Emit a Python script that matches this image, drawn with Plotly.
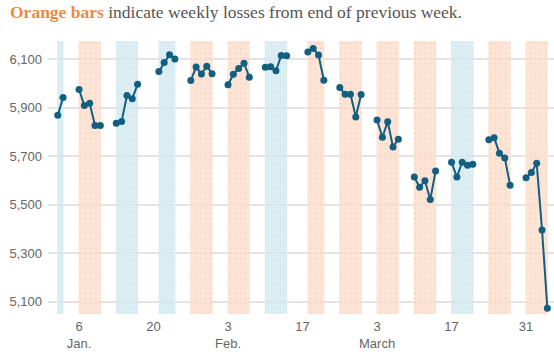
import plotly.graph_objects as go
import pandas as pd

# ---- data ----
dates = [
    "2025-01-02", "2025-01-03",
    "2025-01-06", "2025-01-07", "2025-01-08", "2025-01-09", "2025-01-10",
    "2025-01-13", "2025-01-14", "2025-01-15", "2025-01-16", "2025-01-17",
    "2025-01-21", "2025-01-22", "2025-01-23", "2025-01-24",
    "2025-01-27", "2025-01-28", "2025-01-29", "2025-01-30", "2025-01-31",
    "2025-02-03", "2025-02-04", "2025-02-05", "2025-02-06", "2025-02-07",
    "2025-02-10", "2025-02-11", "2025-02-12", "2025-02-13", "2025-02-14",
    "2025-02-18", "2025-02-19", "2025-02-20", "2025-02-21",
    "2025-02-24", "2025-02-25", "2025-02-26", "2025-02-27", "2025-02-28",
    "2025-03-03", "2025-03-04", "2025-03-05", "2025-03-06", "2025-03-07",
    "2025-03-10", "2025-03-11", "2025-03-12", "2025-03-13", "2025-03-14",
    "2025-03-17", "2025-03-18", "2025-03-19", "2025-03-20", "2025-03-21",
    "2025-03-24", "2025-03-25", "2025-03-26", "2025-03-27", "2025-03-28",
    "2025-03-31", "2025-04-01", "2025-04-02", "2025-04-03", "2025-04-04",
]
closes = [
    5868.55, 5942.47,
    5975.38, 5909.03, 5918.25, 5827.04, 5827.04,
    5836.22, 5842.91, 5949.91, 5937.34, 5996.66,
    6049.24, 6086.37, 6118.71, 6101.24,
    6012.28, 6067.70, 6039.31, 6071.17, 6040.53,
    5994.57, 6037.88, 6061.48, 6083.57, 6025.99,
    6066.44, 6068.50, 6051.97, 6115.07, 6114.63,
    6129.58, 6144.15, 6117.52, 6013.13,
    5983.25, 5955.25, 5956.06, 5861.57, 5954.50,
    5849.72, 5778.15, 5842.63, 5738.52, 5770.20,
    5614.56, 5572.07, 5599.30, 5521.52, 5638.94,
    5675.12, 5614.66, 5675.29, 5662.89, 5667.56,
    5767.57, 5776.65, 5712.20, 5693.31, 5580.94,
    5611.85, 5633.07, 5670.97, 5396.52, 5074.08,
]
# weekly result vs end of previous week, one per week in order
week_result = ["gain", "loss", "gain", "gain", "loss", "loss", "gain",
               "loss", "loss", "loss", "loss", "gain", "loss", "loss"]

tick_dates = ["2025-01-06", "2025-01-20", "2025-02-03", "2025-02-17",
              "2025-03-03", "2025-03-17", "2025-03-31"]
tick_labels = ["6<br>Jan.", "20", "3<br>Feb.", "17", "3<br>March", "17", "31"]
y_ticks = [5100, 5300, 5500, 5700, 5900, 6100]

# ---- build ----
df = pd.DataFrame({"date": pd.to_datetime(dates), "close": closes})
df["week"] = df["date"].dt.isocalendar().week

y_range = [5050, 6175]
x_range = ["2024-12-31 04:00", "2025-04-05 06:00"]

fig = go.Figure()

pad = pd.Timedelta(hours=2.5)
style = {
    "gain": dict(bg="rgba(214,235,241,0.8)", fg="rgba(190,222,232,0.8)", size=3, sol=0.3),
    "loss": dict(bg="rgba(253,222,203,0.8)", fg="rgba(242,170,168,0.7)", size=5, sol=0.1),
}
line_x, line_y = [], []
for i, (wk, g) in enumerate(df.groupby("week", sort=True)):
    start = g["date"].min() - pad
    end = g["date"].max() + pad
    mid = start + (end - start) / 2
    st = style[week_result[i]]
    fig.add_trace(go.Bar(
        x=[mid], y=[y_range[1] - y_range[0]], base=[y_range[0]],
        width=[(end - start).total_seconds() * 1000],
        marker=dict(color=st["bg"], line_width=0,
                    pattern=dict(shape=".", bgcolor=st["bg"], fgcolor=st["fg"],
                                 size=st["size"], solidity=st["sol"])),
        hoverinfo="skip", showlegend=False,
    ))
    line_x += list(g["date"]) + [None]
    line_y += list(g["close"]) + [None]

fig.add_trace(go.Scatter(
    x=line_x, y=line_y, mode="lines+markers",
    line=dict(color="#125f82", width=2),
    marker=dict(color="#125f82", size=7),
    connectgaps=False, showlegend=False,
))

fig.update_layout(
    width=554, height=358,
    margin=dict(l=48, r=0, t=41, b=44, pad=0),
    paper_bgcolor="white", plot_bgcolor="white",
    barmode="overlay",
    title=dict(
        text="<b><span style='color:#ec8a3f'>Orange bars</span></b> indicate weekly losses from end of previous week.",
        x=10 / 554, xanchor="left", xref="container",
        y=1 - 12 / 358, yanchor="middle", yref="container",
        pad=dict(l=0, r=0, t=0, b=0), automargin=False,
        font=dict(family="Liberation Serif, serif", size=17.5, color="#555555"),
    ),
    font=dict(family="Liberation Sans, Arial, sans-serif", size=13, color="#666666"),
)
fig.update_xaxes(
    type="date", range=x_range, showgrid=False, zeroline=False, showline=False,
    tickmode="array", tickvals=tick_dates, ticktext=tick_labels, ticks="",
    ticklabelstandoff=3,
    tickfont=dict(size=13, color="#666666"), automargin=False,
)
fig.update_yaxes(
    range=y_range, tickmode="array", tickvals=y_ticks,
    ticktext=[f"{v:,}" for v in y_ticks],
    showgrid=True, gridcolor="#e8e2e2", gridwidth=1.5, zeroline=False,
    showline=False, ticks="", ticklabelstandoff=5, automargin=False,
    tickfont=dict(size=13, color="#666666"),
)

fig.write_html(
    "out.html",
    config={"displayModeBar": False},
    post_script="document.body.style.margin='0';document.body.style.overflow='hidden';",
)
